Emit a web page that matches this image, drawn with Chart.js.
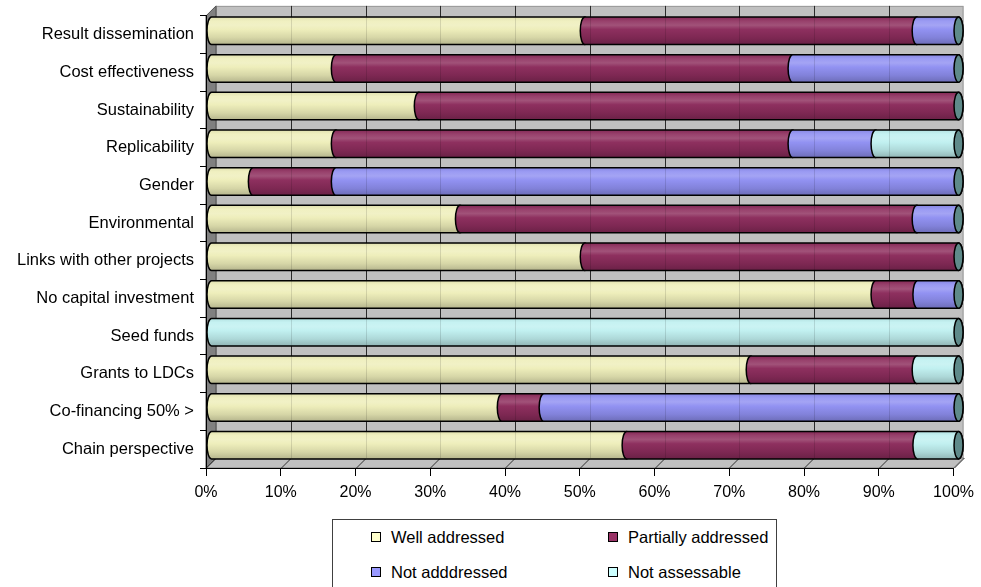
<!DOCTYPE html>
<html>
<head>
<meta charset="utf-8">
<script src="https://cdn.jsdelivr.net/npm/chart.js@4/dist/chart.umd.min.js"></script>
<style>
  html, body { margin: 0; padding: 0; background: #fff; overflow: hidden; }
  #wrap { position: relative; width: 981px; height: 587px; overflow: hidden; }
  #legend {
    position: absolute; left: 332px; top: 519px; width: 445px; height: 90px;
    border: 1px solid #404040; box-sizing: border-box; background: #fff;
    font: 16.5px "Liberation Sans", Arial, sans-serif; color: #000;
  }
  .item { position: absolute; display: flex; align-items: center; white-space: nowrap; }
  .box { width: 8px; height: 8px; border: 1px solid #000; margin-right: 10px; }
</style>
</head>
<body>
<div id="wrap">
  <canvas id="c" width="981" height="587"></canvas>
  <div id="legend"></div>
</div>
<script>
// Categories (top to bottom) and share of projects per rating, in percent
const categories = [
  'Result dissemination', 'Cost effectiveness', 'Sustainability', 'Replicability',
  'Gender', 'Environmental', 'Links with other projects', 'No capital investment',
  'Seed funds', 'Grants to LDCs', 'Co-financing 50% >', 'Chain perspective'
];
const seriesNames = ['Well addressed', 'Partially addressed', 'Not adddressed', 'Not assessable'];
const wellAddressed      = [50,   16.7, 27.8, 16.7, 5.6,  33.3, 50, 88.9, 0,   72.2, 38.9, 55.6];
const partiallyAddressed = [44.4, 61.1, 72.2, 61.1, 11.1, 61.1, 50, 5.6,  0,   22.2, 5.6,  38.9];
const notAddressed       = [5.6,  22.2, 0,    11.1, 83.3, 5.6,  0,  5.5,  0,   0,    55.5, 0];
const notAssessable      = [0,    0,    0,    11.1, 0,    0,    0,  0,    100, 5.6,  0,    5.5];
const xTickValues = [0, 10, 20, 30, 40, 50, 60, 70, 80, 90, 100];

// Legend swatch colours and cylinder body colours
const swatch = ['#FFFFCC', '#993366', '#9999FF', '#CCFFFF'];
const body   = ['#EEEEBA', '#8C2C5C', '#9090F2', '#C0F0F0'];
const capColor = '#5F8A8A';

// 3D look: depth of the walls, and offset of the cylinders inside that depth
const DEPTH_X = 10, DEPTH_Y = -10;
const BAR_DX = 5, BAR_DY = -4;

function hexToRgb(h) {
  const n = parseInt(h.slice(1), 16);
  return [(n >> 16) & 255, (n >> 8) & 255, n & 255];
}
function mix(h, target, t) {
  const c = hexToRgb(h);
  const m = c.map(v => Math.round(v + (target - v) * t));
  return `rgb(${m[0]},${m[1]},${m[2]})`;
}

const walls = {
  id: 'walls',
  beforeDraw(chart) {
    const { ctx, chartArea: a, scales } = chart;
    const L = a.left, R = a.right, T = a.top, B = a.bottom;
    ctx.save();
    // back wall
    ctx.fillStyle = '#C0C0C0';
    ctx.fillRect(L + DEPTH_X, T + DEPTH_Y, R - L, B - T);
    ctx.strokeStyle = '#9A9A9A';
    ctx.lineWidth = 1;
    ctx.strokeRect(L + DEPTH_X + 0.5, T + DEPTH_Y + 0.5, R - L - 1, B - T);
    // floor
    ctx.beginPath();
    ctx.moveTo(L, B); ctx.lineTo(L + DEPTH_X, B + DEPTH_Y);
    ctx.lineTo(R + DEPTH_X, B + DEPTH_Y); ctx.lineTo(R, B); ctx.closePath();
    ctx.fillStyle = '#C0C0C0'; ctx.fill();
    ctx.strokeStyle = '#808080'; ctx.stroke();
    // left wall
    ctx.beginPath();
    ctx.moveTo(L, T); ctx.lineTo(L + DEPTH_X, T + DEPTH_Y);
    ctx.lineTo(L + DEPTH_X, B + DEPTH_Y); ctx.lineTo(L, B); ctx.closePath();
    ctx.fillStyle = '#808080'; ctx.fill();
    ctx.strokeStyle = '#505050'; ctx.stroke();
    // gridlines on back wall and floor
    ctx.strokeStyle = '#303030';
    ctx.lineWidth = 1;
    xTickValues.forEach(v => {
      const px = Math.round(scales.x.getPixelForValue(v)) + 0.5;
      ctx.beginPath();
      if (v > 0 && v < 100) {
        ctx.moveTo(px + DEPTH_X, T + DEPTH_Y);
        ctx.lineTo(px + DEPTH_X, B + DEPTH_Y);
      }
      ctx.moveTo(px + DEPTH_X, B + DEPTH_Y);
      ctx.lineTo(px, B);
      ctx.stroke();
    });
    ctx.restore();
  }
};

const cylinders = {
  id: 'cylinders',
  beforeDatasetsDraw(chart) {
    const ctx = chart.ctx;
    const a = chart.chartArea;
    const metas = chart.data.datasets.map((d, i) => chart.getDatasetMeta(i));
    ctx.save();
    ctx.lineWidth = 1.5;
    ctx.strokeStyle = '#000';
    metas.forEach((meta, di) => {
      const col = body[di];
      meta.data.forEach((el, i) => {
        const v = chart.data.datasets[di].data[i];
        if (!v) return;
        const xs = el.base + BAR_DX, xe = el.x + BAR_DX;
        const yc = el.y + BAR_DY, h = el.height;
        const top = yc - h / 2, bot = yc + h / 2;
        const rx = 4.5, ry = h / 2;
        const g = ctx.createLinearGradient(0, top, 0, bot);
        g.addColorStop(0.00, mix(col, 0, 0.06));
        g.addColorStop(0.15, mix(col, 255, 0.10));
        g.addColorStop(0.30, mix(col, 255, 0.18));
        g.addColorStop(0.45, mix(col, 255, 0.02));
        g.addColorStop(0.75, mix(col, 0, 0.10));
        g.addColorStop(1.00, mix(col, 0, 0.24));
        ctx.beginPath();
        ctx.moveTo(xs, top);
        ctx.lineTo(xe, top);
        ctx.ellipse(xe, yc, rx, ry, 0, -Math.PI / 2, Math.PI / 2);
        ctx.lineTo(xs, bot);
        ctx.ellipse(xs, yc, rx, ry, 0, Math.PI / 2, Math.PI * 1.5);
        ctx.closePath();
        ctx.fillStyle = g;
        ctx.fill();
        ctx.stroke();
      });
    });
    // back-wall gridlines faintly showing through the cylinders
    ctx.save();
    ctx.globalAlpha = 0.12;
    ctx.strokeStyle = '#000';
    ctx.lineWidth = 1;
    xTickValues.forEach(v => {
      if (v === 0 || v === 100) return;
      const px = Math.round(chart.scales.x.getPixelForValue(v)) + DEPTH_X + 0.5;
      ctx.beginPath();
      ctx.moveTo(px, a.top + DEPTH_Y);
      ctx.lineTo(px, a.bottom + DEPTH_Y);
      ctx.stroke();
    });
    ctx.restore();
    // end caps on the last non-empty segment of each bar
    chart.data.labels.forEach((lab, i) => {
      let last = -1;
      chart.data.datasets.forEach((d, di) => { if (d.data[i]) last = di; });
      if (last < 0) return;
      const el = metas[last].data[i];
      const xe = el.x + BAR_DX, yc = el.y + BAR_DY, ry = el.height / 2;
      ctx.beginPath();
      ctx.ellipse(xe, yc, 4.5, ry, 0, 0, Math.PI * 2);
      ctx.fillStyle = capColor;
      ctx.fill();
      ctx.stroke();
    });
    ctx.restore();
    return false;
  }
};

const seriesData = [wellAddressed, partiallyAddressed, notAddressed, notAssessable];
const labelFont = { family: '"Liberation Sans", Arial, sans-serif', size: 16.5 };
const tickFont = { family: '"Liberation Sans", Arial, sans-serif', size: 16 };

const chart = new Chart(document.getElementById('c'), {
  type: 'bar',
  data: {
    labels: categories,
    datasets: seriesNames.map((name, i) => ({
      label: name,
      data: seriesData[i],
      backgroundColor: swatch[i],
      borderColor: '#000',
      borderWidth: 1,
      categoryPercentage: 1,
      barPercentage: 0.73
    }))
  },
  options: {
    indexAxis: 'y',
    responsive: false,
    animation: false,
    devicePixelRatio: 1,
    layout: { padding: { left: 0, right: 22, top: 15, bottom: 79 } },
    plugins: { legend: { display: false }, tooltip: { enabled: false } },
    scales: {
      x: {
        stacked: true, min: 0, max: 100,
        afterBuildTicks: s => { s.ticks = xTickValues.map(v => ({ value: v })); },
        ticks: { callback: v => v + '%', color: '#000', font: tickFont, padding: 7, maxRotation: 0 },
        grid: { drawOnChartArea: false, tickLength: 8, color: '#000' },
        border: { color: '#000', width: 1 },
        afterFit: s => { s.height = 40; }
      },
      y: {
        stacked: true,
        ticks: { color: '#000', font: labelFont, padding: 6 },
        grid: { offset: true, drawOnChartArea: false, tickLength: 6, color: '#000' },
        border: { color: '#000', width: 1 },
        afterFit: s => { s.width = 206; }
      }
    }
  },
  plugins: [walls, cylinders]
});

// Legend: two columns built from the chart's datasets
const legend = document.getElementById('legend');
const pos = [[38, 17], [275, 17], [38, 52], [275, 52]];
chart.data.datasets.forEach((d, i) => {
  const item = document.createElement('div');
  item.className = 'item';
  item.style.left = pos[i][0] + 'px';
  item.style.top = (pos[i][1] - 10) + 'px';
  item.style.height = '20px';
  const box = document.createElement('span');
  box.className = 'box';
  box.style.background = d.backgroundColor;
  const txt = document.createElement('span');
  txt.textContent = d.label;
  item.appendChild(box);
  item.appendChild(txt);
  legend.appendChild(item);
});
</script>
</body>
</html>
